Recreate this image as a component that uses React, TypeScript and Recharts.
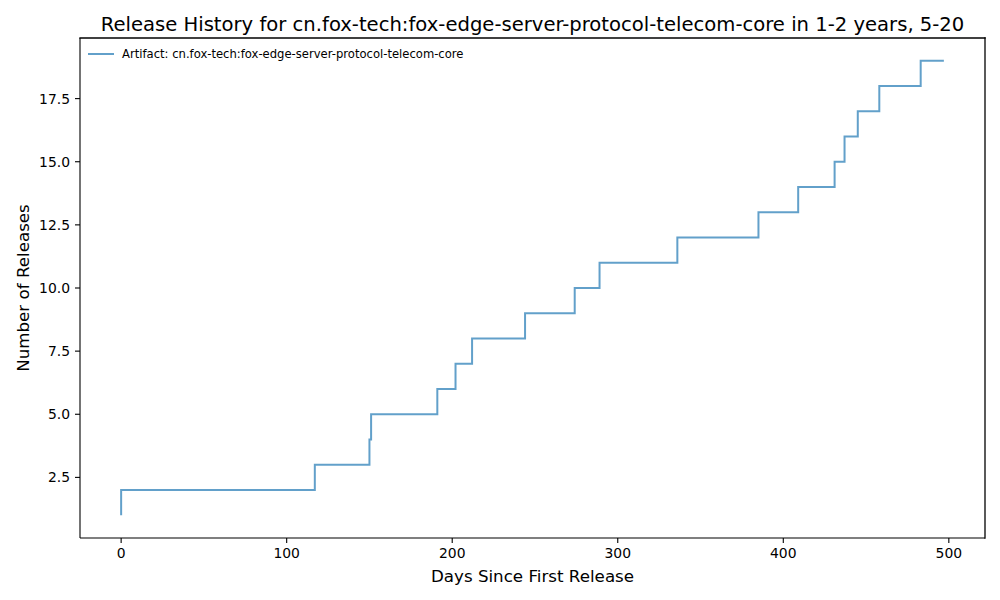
import React from 'react';
import { LineChart, Line, XAxis, YAxis } from 'recharts';

const ARTIFACT = 'cn.fox-tech:fox-edge-server-protocol-telecom-core';

// days since first release, cumulative release count (last point closes the final step)
const releaseDays = [0, 0, 117, 150, 151, 191, 202, 212, 244, 274, 289, 336, 385, 409, 431, 437, 445, 458, 483, 497];
const releaseCounts = [1, 2, 3, 4, 5, 6, 7, 8, 9, 10, 11, 12, 13, 14, 15, 16, 17, 18, 19, 19];

const xTicks = [0, 100, 200, 300, 400, 500];
const yTicks = [2.5, 5.0, 7.5, 10.0, 12.5, 15.0, 17.5];
const xDomain = [-24.85, 521.85];
const yDomain = [0.1, 19.9];

const data = releaseDays.map((d, i) => ({ day: d, count: releaseCounts[i] }));

const W = 1000;
const H = 600;
const MARGIN = { top: 38, right: 15, bottom: 0, left: 0 };
const Y_AXIS_W = 80;
const X_AXIS_H = 62;

const FONT = '"DejaVu Sans", sans-serif';
const LINE_COLOR = '#1f77b4';
const tickStyle = { fontSize: 13.9, fill: '#000', fontFamily: FONT };
const spine = { stroke: '#000', strokeWidth: 1.1 };

function LegendBox() {
  return (
    <div
      style={{
        position: 'absolute',
        top: 47,
        left: 88,
        display: 'flex',
        alignItems: 'center',
        fontFamily: FONT,
        fontSize: 11.6,
        color: '#000',
        whiteSpace: 'nowrap',
      }}
    >
      <svg width={26} height={4} style={{ marginRight: 8 }}>
        <line x1={0} y1={2} x2={26} y2={2} stroke={LINE_COLOR} strokeOpacity={0.7} strokeWidth={2} />
      </svg>
      <span>Artifact: {ARTIFACT}</span>
    </div>
  );
}

export default function App() {
  // plot frame (matplotlib spines) from the chart layout
  const plotLeft = MARGIN.left + Y_AXIS_W;
  const plotTop = MARGIN.top;
  const plotW = W - MARGIN.right - plotLeft;
  const plotH = H - MARGIN.bottom - X_AXIS_H - plotTop;
  const plotRight = plotLeft + plotW;
  const plotBottom = plotTop + plotH;
  const midX = plotLeft + plotW / 2;
  const midY = plotTop + plotH / 2;

  return (
    <div style={{ position: 'fixed', left: 0, top: 0, width: W, height: H, background: '#fff' }}>
      <LineChart width={W} height={H} data={data} margin={MARGIN}>
        <XAxis
          dataKey="day"
          type="number"
          domain={xDomain}
          allowDataOverflow
          ticks={xTicks}
          height={X_AXIS_H}
          tick={tickStyle}
          tickSize={5}
          tickMargin={5}
          stroke="#000"
          tickLine={spine}
          axisLine={spine}
        />
        <YAxis
          type="number"
          domain={yDomain}
          allowDataOverflow
          ticks={yTicks}
          tickFormatter={(v: number) => v.toFixed(1)}
          width={Y_AXIS_W}
          tick={tickStyle}
          tickSize={5}
          tickMargin={5}
          stroke="#000"
          tickLine={spine}
          axisLine={spine}
        />
        <Line
          type="stepAfter"
          dataKey="count"
          name={`Artifact: ${ARTIFACT}`}
          stroke={LINE_COLOR}
          strokeOpacity={0.7}
          strokeWidth={2}
          dot={false}
          isAnimationActive={false}
        />
      </LineChart>
      <LegendBox />
      <svg
        width={W}
        height={H}
        style={{ position: 'absolute', left: 0, top: 0, pointerEvents: 'none' }}
        fontFamily={FONT}
      >
        <g stroke="#000" strokeWidth={1.3} strokeLinecap="square">
          <line x1={plotLeft} y1={plotTop} x2={plotRight} y2={plotTop} />
          <line x1={plotRight} y1={plotTop} x2={plotRight} y2={plotBottom} />
        </g>
        <text x={midX} y={31} textAnchor="middle" fontSize={19.6} fill="#000">
          Release History for {ARTIFACT} in 1-2 years, 5-20
        </text>
        <text x={midX} y={582} textAnchor="middle" fontSize={16.7} fill="#000">
          Days Since First Release
        </text>
        <text x={29} y={midY} textAnchor="middle" fontSize={16.7} fill="#000" transform={`rotate(-90 29 ${midY})`}>
          Number of Releases
        </text>
      </svg>
    </div>
  );
}
